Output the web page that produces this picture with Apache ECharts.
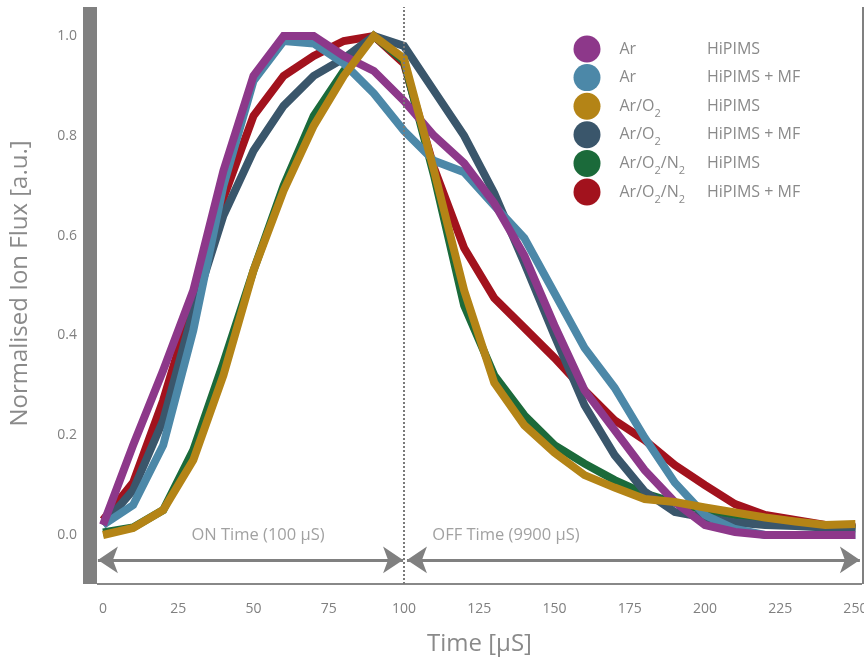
<!DOCTYPE html>
<html><head><meta charset="utf-8">
<script src="https://cdn.jsdelivr.net/npm/echarts@6/dist/echarts.min.js"></script>
<style>html,body{margin:0;padding:0;background:#fff}#c{width:864px;height:661px}</style>
</head><body><div id="c"></div>
<script>
// ---- data ----
const time = [0,10,20,30,40,50,60,70,80,90,100,110,120,130,140,150,160,170,180,190,200,210,220,230,240,250];
const arHiPIMS     = [0.02,0.18,0.33,0.49,0.73,0.92,1.0,1.0,0.96,0.93,0.87,0.80,0.745,0.665,0.56,0.42,0.29,0.21,0.13,0.066,0.02,0.006,0,0,0,0];
const arMF         = [0.02,0.06,0.18,0.41,0.70,0.91,0.99,0.985,0.945,0.885,0.81,0.75,0.727,0.66,0.595,0.485,0.375,0.295,0.195,0.105,0.04,0.012,0,0,0,0];
const arO2HiPIMS   = [0.0,0.014,0.05,0.15,0.32,0.53,0.69,0.82,0.92,1.0,0.955,0.73,0.49,0.305,0.22,0.165,0.12,0.095,0.072,0.066,0.055,0.045,0.035,0.027,0.02,0.022];
const arO2MF       = [0.02,0.09,0.23,0.45,0.64,0.77,0.86,0.92,0.955,1.0,0.98,0.89,0.80,0.685,0.545,0.40,0.26,0.16,0.087,0.046,0.035,0.025,0.02,0.018,0.015,0.015];
const arO2N2HiPIMS = [0.005,0.015,0.05,0.17,0.345,0.53,0.70,0.84,0.93,1.0,0.95,0.72,0.46,0.32,0.24,0.18,0.143,0.11,0.083,0.065,0.05,0.04,0.03,0.022,0.016,0.012];
const arO2N2MF     = [0.03,0.105,0.27,0.47,0.675,0.84,0.92,0.96,0.99,1.0,0.945,0.735,0.575,0.475,0.415,0.355,0.29,0.23,0.19,0.14,0.10,0.062,0.04,0.03,0.02,0.015];

const xTicks = [0,25,50,75,100,125,150,175,200,225,250];
const yTicks = [0,0.2,0.4,0.6,0.8,1.0];

// legend columns (gas / mode), "_2" marks a subscript 2
const gases = ['Ar','Ar','Ar/O_2','Ar/O_2','Ar/O_2/N_2','Ar/O_2/N_2'];
const modes = ['HiPIMS','HiPIMS + MF','HiPIMS','HiPIMS + MF','HiPIMS','HiPIMS + MF'];
const seriesValues = [arHiPIMS, arMF, arO2HiPIMS, arO2MF, arO2N2HiPIMS, arO2N2MF];
const colors = ['#8d388a','#4c88a8','#b48416','#3a566b','#1b6a3a','#a2121d'];
// drawing order bottom -> top (indices into the lists above)
const drawOrder = [5,4,3,1,0,2];

// annotations
const pulseBoundary = 100;
const arrowY = -0.05;
const onArrow  = [-1.7, 99.7];
const offArrow = [101.0, 251.5];
const annotTexts = [
  {t: 51.5, v: 0.0, text: 'ON Time (100 µS)'},
  {t: 133.9, v: 0.0, text: 'OFF Time (9900 µS)'}
];

// ---- chart ----
const FONT = 'Open Sans';
const names = gases.map((g,i) => g.replace(/_/g,'') + ' ' + modes[i]);
const gasRich = g => '{g|}{t|' + g.replace(/_2/g, '}{s|2}{t|') + '}';
const nameToGas = {}, nameToMode = {};
names.forEach((n,i) => { nameToGas[n] = gasRich(gases[i]); nameToMode[n] = modes[i]; });

const lineSeries = drawOrder.map(i => ({
  name: names[i], type: 'line', symbol: 'none', showSymbol: false,
  data: time.map((t,k) => [t, seriesValues[i][k]]),
  lineStyle: {width: 8, color: colors[i], join: 'miter', cap: 'butt'},
  itemStyle: {color: colors[i]},
  z: 3
}));

const yMin = -0.0982, yMax = 1.0581;
const chart = echarts.init(document.getElementById('c'));
chart.setOption({
  animation: false,
  textStyle: {fontFamily: FONT},
  grid: {left: 97, right: 2, top: 7, bottom: 77, containLabel: false, outerBoundsMode: 'none'},
  xAxis: {
    type: 'value', min: -2, max: 252.2,
    axisLine: {show: true, onZero: false, lineStyle: {color: '#888', width: 2, cap: 'butt'}},
    axisTick: {show: false}, splitLine: {show: false},
    axisLabel: {customValues: xTicks, color: '#808080', fontSize: 14, margin: 18, fontFamily: FONT},
    name: 'Time [µS]', nameLocation: 'middle', nameGap: 48,
    nameTextStyle: {fontSize: 24, color: '#8a8a8a', fontFamily: FONT}
  },
  yAxis: [{
    type: 'value', min: yMin, max: yMax, position: 'left', offset: 7,
    axisLine: {show: true, onZero: false, lineStyle: {color: '#808080', width: 14, cap: 'butt'}},
    axisTick: {show: false}, splitLine: {show: false},
    axisLabel: {customValues: yTicks, formatter: v => v.toFixed(1), color: '#808080', fontSize: 14, margin: 13, fontFamily: FONT},
    name: 'Normalised Ion Flux [a.u.]', nameLocation: 'middle', nameGap: 58,
    nameTextStyle: {fontSize: 24, color: '#8a8a8a', fontFamily: FONT, padding: [0,0,0,24]}
  }, {
    type: 'value', min: yMin, max: yMax, position: 'right', offset: 7,
    axisLine: {show: true, onZero: false, lineStyle: {color: '#808080', width: 14, cap: 'butt'}},
    axisTick: {show: false}, splitLine: {show: false}, axisLabel: {show: false}
  }],
  legend: [{
    data: names, orient: 'vertical', left: 573.5, top: 35.5, padding: 0,
    icon: 'circle', itemWidth: 27, itemHeight: 27, itemGap: 1.6,
    selectedMode: false,
    formatter: n => nameToGas[n],
    textStyle: {
      color: '#8a8a8a', fontSize: 16, fontFamily: FONT,
      rich: {
        g: {width: 14},
        t: {fontSize: 16, color: '#8a8a8a', fontFamily: FONT, lineHeight: 26},
        s: {fontSize: 11, color: '#8a8a8a', fontFamily: FONT, lineHeight: 1, verticalAlign: 'bottom'}
      }
    }
  }, {
    data: names, orient: 'vertical', left: 702, top: 35.5, padding: 0,
    icon: 'circle', itemWidth: 0, itemHeight: 27, itemGap: 1.6,
    selectedMode: false, itemStyle: {opacity: 0},
    formatter: n => nameToMode[n],
    textStyle: {color: '#8a8a8a', fontSize: 16, fontFamily: FONT, lineHeight: 27}
  }],
  series: lineSeries.concat([
    {
      name: 'annotations', type: 'scatter', symbolSize: 0, silent: true,
      data: annotTexts.map(a => ({value: [a.t, a.v], name: a.text})),
      label: {show: true, position: 'inside', formatter: p => p.name, color: '#8a8a8a', fontSize: 16.5, fontFamily: FONT},
      markLine: {
        silent: true, symbol: ['none','none'], label: {show: false},
        lineStyle: {type: 'dotted', color: '#7a7a7a', width: 2},
        data: [{xAxis: pulseBoundary}]
      },
      z: 1
    },
    {
      name: 'arrows', type: 'line', data: [], silent: true,
      markLine: {
        silent: true, symbol: ['arrow','arrow'], symbolSize: [20, 20], label: {show: false},
        lineStyle: {type: 'solid', color: '#808080', width: 3},
        data: [
          [{coord: [onArrow[0], arrowY]}, {coord: [onArrow[1], arrowY]}],
          [{coord: [offArrow[0], arrowY]}, {coord: [offArrow[1], arrowY]}]
        ]
      },
      z: 1
    }
  ])
});
</script></body></html>
